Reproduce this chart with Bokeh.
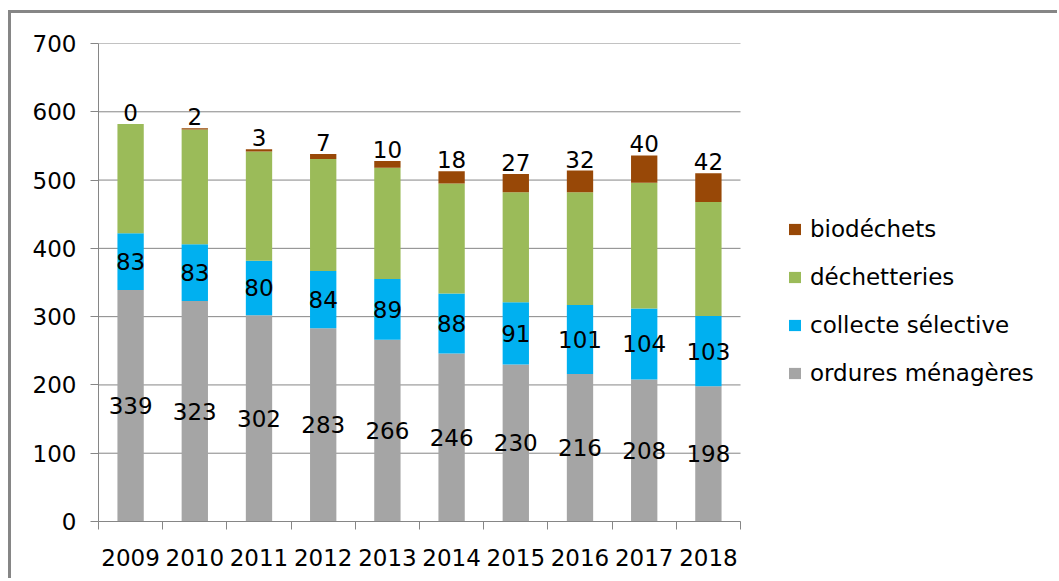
from bokeh.plotting import figure
from bokeh.models import ColumnDataSource, FixedTicker, Legend, LegendItem, Range1d
from bokeh.core.properties import value
from bokeh.embed import file_html
from bokeh.resources import INLINE

years = [2009, 2010, 2011, 2012, 2013, 2014, 2015, 2016, 2017, 2018]
ordures = [339, 323, 302, 283, 266, 246, 230, 216, 208, 198]
collecte = [83, 83, 80, 84, 89, 88, 91, 101, 104, 103]
dechetteries = [160, 168, 160, 164, 163, 161, 161, 165, 184, 167]
biodechets = [0, 2, 3, 7, 10, 18, 27, 32, 40, 42]
series_names = ["ordures ménagères", "collecte sélective", "déchetteries", "biodéchets"]
colors = ["#A5A5A5", "#00B0F0", "#9BBB59", "#984807"]
y_ticks = [0, 100, 200, 300, 400, 500, 600, 700]

FONT = "DejaVu Sans"
GRID = "#868686"

FRAME_W = 959
PX_PER_CAT = 64.2
x0 = years[0] - 0.5
x1 = years[-1] + 0.5
x_end = x0 + FRAME_W / PX_PER_CAT

src = ColumnDataSource(dict(
    x=years,
    ordures=ordures,
    collecte=collecte,
    dechetteries=dechetteries,
    biodechets=biodechets,
    lab_o=[str(v) for v in ordures],
    lab_c=[str(v) for v in collecte],
    lab_b=[str(v) for v in biodechets],
    y_o=[o / 2 for o in ordures],
    y_c=[o + c / 2 for o, c in zip(ordures, collecte)],
    y_b=[o + c + d + b for o, c, d, b in zip(ordures, collecte, dechetteries, biodechets)],
))

p = figure(frame_width=FRAME_W, frame_height=478, output_backend="svg", toolbar_location=None,
           x_range=Range1d(x0, x_end),
           y_range=Range1d(0, 700),
           min_border_left=87, min_border_top=30, min_border_right=0, min_border_bottom=57)
p.outline_line_color = None
p.styles = {"border-left": "3px solid #868686", "border-top": "3px solid #868686",
            "margin-left": "8px", "margin-top": "10px"}

# horizontal gridlines limited to the category area
p.segment(x0=[x0] * len(y_ticks), x1=[x1] * len(y_ticks), y0=y_ticks, y1=y_ticks,
          line_color=GRID, line_width=1)

renderers = p.vbar_stack(["ordures", "collecte", "dechetteries", "biodechets"], x="x",
                         width=0.41, color=colors, source=src, line_color=None)

# labels
common = dict(text_font=value(FONT), text_font_size="23px", text_color="#000000",
              text_align="center", source=src)
p.text(x="x", y="y_o", text="lab_o", text_baseline="middle", **common)
p.text(x="x", y="y_c", text="lab_c", text_baseline="middle", **common)
p.text(x="x", y="y_b", text="lab_b", text_baseline="bottom", y_offset=-3, **common)

# axes
p.xgrid.grid_line_color = None
p.ygrid.grid_line_color = None

p.yaxis.ticker = FixedTicker(ticks=y_ticks)
p.yaxis.axis_line_color = GRID
p.yaxis.major_tick_line_color = GRID
p.yaxis.major_tick_out = 8
p.yaxis.major_tick_in = 0
p.yaxis.minor_tick_line_color = None
p.yaxis.major_label_text_font = FONT
p.yaxis.major_label_text_font_size = "23px"
p.yaxis.major_label_text_color = "#000000"
p.yaxis.major_label_standoff = 14

p.xaxis.bounds = (x0, x1)
p.xaxis.ticker = FixedTicker(ticks=years, minor_ticks=[y - 0.5 for y in years] + [x1])
p.xaxis.major_label_overrides = {y: str(y) for y in years}
p.xaxis.axis_line_color = GRID
p.xaxis.major_tick_line_color = None
p.xaxis.major_tick_out = 0
p.xaxis.major_tick_in = 0
p.xaxis.minor_tick_line_color = GRID
p.xaxis.minor_tick_out = 8
p.xaxis.minor_tick_in = 0
p.xaxis.major_label_text_font = FONT
p.xaxis.major_label_text_font_size = "23px"
p.xaxis.major_label_text_color = "#000000"
p.xaxis.major_label_standoff = 19

items = [LegendItem(label=series_names[i], renderers=[renderers[i]]) for i in [3, 2, 1, 0]]
legend = Legend(items=items, location=(689, 135), orientation="vertical",
                label_text_font=FONT, label_text_font_size="23px", label_text_color="#000000",
                glyph_width=15, glyph_height=14, label_standoff=8, spacing=22,
                padding=0, margin=0, border_line_color=None, background_fill_alpha=0)
p.add_layout(legend, "center")

open("out.html", "w").write(file_html(p, INLINE))
